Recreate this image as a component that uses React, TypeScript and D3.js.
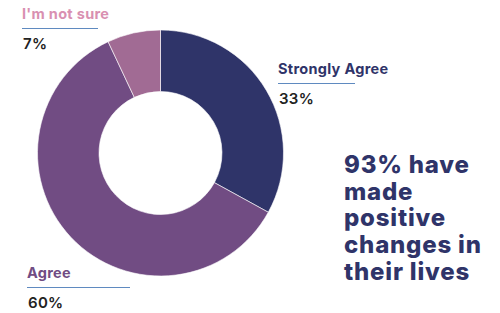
import React from "react";
import * as d3 from "d3";

const categories = ["Strongly Agree", "Agree", "I'm not sure"];
const values = [33, 60, 7];
const sliceColors = ["#2f3469", "#714c83", "#a16b94"];
const labelColors = ["#2f3469", "#714c83", "#d990b1"];
const headlineLines = ["93% have", "made", "positive", "changes in", "their lives"];

const W = 500;
const H = 313;
const cx = 160.5;
const cy = 153;
const outerR = 123;
const innerR = 61.5;

// label anchor positions (x, baseline of label)
const labelPos = [
  { x: 278, y: 74, lineW: 77 },
  { x: 27, y: 278, lineW: 103 },
  { x: 22, y: 19, lineW: 76 },
];

export default function App() {
  const pie = d3.pie<number>().sort(null).value((d) => d);
  const arcs = pie(values);
  const arc = d3.arc<d3.PieArcDatum<number>>().innerRadius(innerR).outerRadius(outerR);
  const font = "Inter, 'Noto Sans', sans-serif";
  return (
    <svg width={W} height={H} style={{ position: "absolute", left: 0, top: 0 }}>
      <rect width={W} height={H} fill="#ffffff" />
      <g transform={`translate(${cx},${cy})`}>
        {arcs.map((a, i) => (
          <path key={i} d={arc(a) || ""} fill={sliceColors[i]} stroke="#ffffff" strokeWidth={0.6} />
        ))}
      </g>
      {categories.map((c, i) => {
        const p = labelPos[i];
        return (
          <g key={c} fontFamily={font}>
            <text x={p.x} y={p.y} fontSize={14.5} fontWeight={700} fill={labelColors[i]} letterSpacing={0.3}>
              {c}
            </text>
            <line x1={p.x} x2={p.x + p.lineW} y1={p.y + 9.5} y2={p.y + 9.5} stroke="#5f8ac0" strokeWidth={1.2} />
            <text x={p.x + 1} y={p.y + 30} fontSize={15} fontWeight={600} fill="#222222" letterSpacing={0.3}>
              {values[i]}%
            </text>
          </g>
        );
      })}
      <text fontFamily={font} fontSize={24} fontWeight={800} fill="#2f3469" letterSpacing={0.8}>
        {headlineLines.map((l, i) => (
          <tspan key={i} x={344} y={173 + i * 26.7}>
            {l}
          </tspan>
        ))}
      </text>
    </svg>
  );
}
